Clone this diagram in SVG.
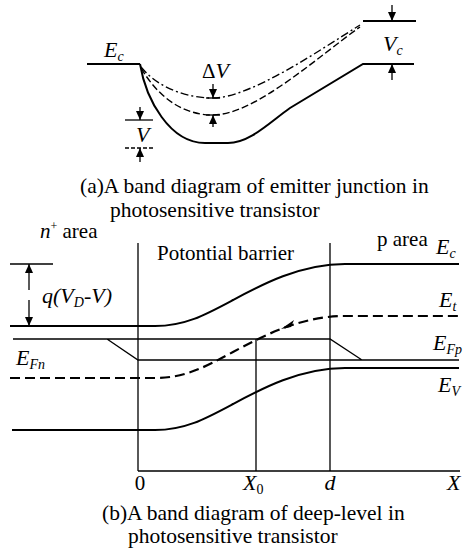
<svg xmlns="http://www.w3.org/2000/svg" width="464" height="549" viewBox="0 0 464 549">
<style>
text{font-family:"Liberation Serif","Times New Roman",serif;fill:#000;font-size:21px}
.cap{font-size:21.5px}
.it{font-style:italic;font-size:22px}
.sub{font-size:14px}
.band{fill:none;stroke:#000;stroke-width:2}
.thin{fill:none;stroke:#000;stroke-width:1.3}
.dash{fill:none;stroke:#000;stroke-width:2.2;stroke-dasharray:10 5}
.dd{fill:none;stroke:#000;stroke-width:1.4;stroke-dasharray:8 3 2 3}
.dl{fill:none;stroke:#000;stroke-width:1.4;stroke-dasharray:7 3}
</style>
<defs>
<marker id="ah" markerWidth="10" markerHeight="10" refX="9" refY="5" orient="auto" markerUnits="userSpaceOnUse">
<path d="M0,1 L9,5 L0,9 Z" fill="#000"/>
</marker>
</defs>
<g id="partA">
<g id="a-bands">
<path class="band" d="M87,64 H140"/>
<path class="band" d="M140,64 C146,100 170,143 205,143 L228,143 C250,143 270,122 290,108 L363,64 H414"/>
<path class="band" d="M363,21 H416"/>
<path class="dd" d="M141,67 C160,90 190,98 213,98 C250,98 320,50 360,25"/>
<path class="dl" d="M141,68 C160,100 185,115 213,115 C255,115 320,55 360,27"/>
</g>
<g id="a-labels">
<text x="104" y="57" class="it">E<tspan class="sub" dy="4">c</tspan></text>
<text x="202" y="78" font-size="22">Δ<tspan class="it">V</tspan></text>
<text x="136" y="142" class="it">V</text>
<text x="383" y="51" class="it">V<tspan class="sub" dy="4">c</tspan></text>
<text x="80" y="193" class="cap">(a)A band diagram of emitter junction in</text>
<text x="110" y="217" class="cap">photosensitive transistor</text>
</g>
<g id="a-arrows">
<path class="thin" d="M213,84 V98" marker-end="url(#ah)"/>
<path class="thin" d="M206,98 H220"/>
<path class="thin" d="M213,127 V115" marker-end="url(#ah)"/>
<path class="thin" d="M206,115 H220"/>
<path class="thin" d="M140,107 V120" marker-end="url(#ah)"/>
<path class="thin" d="M125,120 H153"/>
<path class="thin" d="M140,162 V148" marker-end="url(#ah)"/>
<path class="thin" d="M125,148 H153" stroke-dasharray="4 2"/>
<path class="thin" d="M392,5 V21" marker-end="url(#ah)"/>
<path class="thin" d="M392,80 V64" marker-end="url(#ah)"/>
</g>
</g>
<g id="partB">
<g id="b-axes">
<path class="thin" d="M138,243 V471 M330,243 V471 M256,339 V471 M138,471 H460"/>
</g>
<g id="b-bands">
<path class="band" d="M10,326 H155 C185,326 205,315 233,300 S300,264 345,264 H459"/>
<path class="band" d="M12,430 H155 C185,430 205,419 233,404 S300,368 345,368 H459"/>
<path class="dash" d="M10,378 H155 C185,378 205,367 233,352 S300,316 345,316 H459"/>
<path d="M281,329 L294,320 L291,327 Z" fill="#000"/>
<path class="thin" d="M13,339 H330 L362,360 M107,339 L138,360 H459"/>
</g>
<g id="b-qarrow">
<path class="thin" d="M10,264 H53"/>
<path class="thin" d="M29,290 V264" marker-end="url(#ah)"/>
<path class="thin" d="M29,300 V326" marker-end="url(#ah)"/>
</g>
<g id="b-labels">
<text x="40" y="238" font-size="19"><tspan font-style="italic">n</tspan><tspan font-size="12" dy="-8">+</tspan><tspan dy="8"> area</tspan></text>
<text x="157" y="260">Potontial barrier</text>
<text x="377" y="246">p area</text>
<text x="42" y="303" class="it">q(V<tspan class="sub" dy="4">D</tspan><tspan dy="-4">-V)</tspan></text>
<text x="16" y="365" class="it">E<tspan class="sub" dy="4">Fn</tspan></text>
<text x="436" y="254" class="it">E<tspan class="sub" dy="4">c</tspan></text>
<text x="439" y="307" class="it">E<tspan class="sub" dy="4">t</tspan></text>
<text x="433" y="350" class="it">E<tspan class="sub" dy="4">Fp</tspan></text>
<text x="438" y="392" class="it">E<tspan class="sub" dy="4">V</tspan></text>
<text x="140" y="490" text-anchor="middle" font-size="22">0</text>
<text x="243" y="490" class="it">X<tspan class="sub" dy="4" font-style="normal">0</tspan></text>
<text x="330" y="490" class="it" text-anchor="middle">d</text>
<text x="447" y="490" class="it">X</text>
<text x="102" y="520" class="cap">(b)A band diagram of deep-level in</text>
<text x="128" y="543" class="cap">photosensitive transistor</text>
</g>
</g>
</svg>
